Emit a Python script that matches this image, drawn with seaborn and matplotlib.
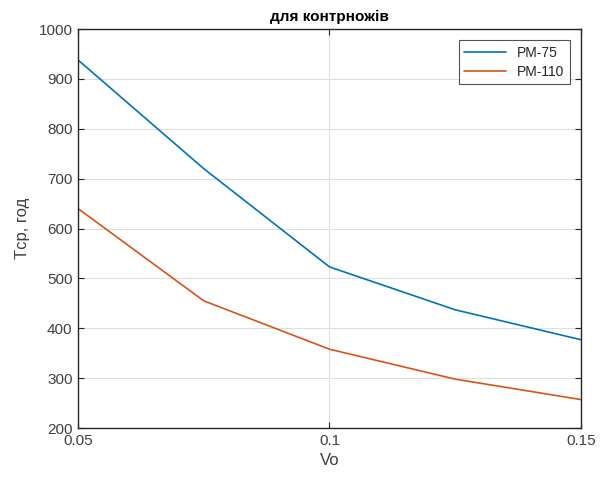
import matplotlib
matplotlib.use("Agg")
import matplotlib.pyplot as plt
import seaborn as sns
import pandas as pd

vo = [0.05, 0.075, 0.1, 0.125, 0.15]
pm75 = [938, 720, 523, 437, 377]
pm110 = [640, 455, 358, 298, 257]
series_names = ["PM-75", "PM-110"]
xticks = [0.05, 0.1, 0.15]
xticklabels = ["0.05", "0.1", "0.15"]
yticks = list(range(200, 1001, 100))

df = pd.DataFrame({
    "Vo": vo * 2,
    "T": pm75 + pm110,
    "series": [series_names[0]] * len(vo) + [series_names[1]] * len(vo),
})

sns.set_theme(style="white")
plt.rcParams['font.family'] = ['Liberation Sans', 'DejaVu Sans']

fig = plt.figure(figsize=(6.01, 4.82), dpi=100)
ax = fig.add_axes([0.1298, 0.112, 0.8369, 0.8278])

sns.lineplot(data=df, x="Vo", y="T", hue="series",
             palette=["#0072BD", "#D95319"], linewidth=1.2, ax=ax)

ax.set_xlim(0.05, 0.15)
ax.set_ylim(200, 1000)
ax.set_xticks(xticks)
ax.set_xticklabels(xticklabels)
ax.set_yticks(yticks)
ax.grid(True, color="#dfdfdf", linewidth=0.8)
ax.set_axisbelow(True)
for s in ax.spines.values():
    s.set_color("#262626")
    s.set_linewidth(1.0)
    s.set_visible(True)
ax.tick_params(direction="in", length=4, width=0.8, colors="#262626",
               labelsize=11, labelcolor="#404040", top=True, right=True,
               bottom=True, left=True, pad=4)
ax.set_xlabel("Vo", fontsize=12, color="#404040")
ax.set_ylabel("Tср, год", fontsize=12, color="#404040", labelpad=6)
ax.set_title("для контрножів", fontsize=11, fontweight="bold", color="black", pad=6)

leg = ax.legend(title=None, loc="upper right", fontsize=10, frameon=True,
                fancybox=False, edgecolor="#262626", handlelength=3.0,
                borderaxespad=0.8, borderpad=0.4, labelspacing=0.35)
leg.get_frame().set_linewidth(0.8)

fig.savefig("out.png", dpi=100)
